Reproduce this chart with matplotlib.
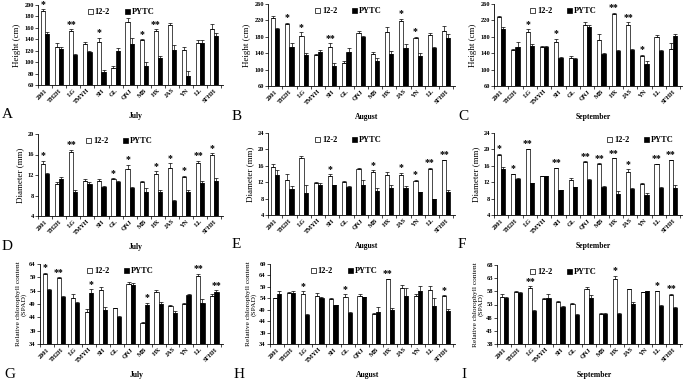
import matplotlib.pyplot as plt
import matplotlib
import numpy as np
from matplotlib.patches import Patch

matplotlib.rcParams.update({'font.family': 'Liberation Serif', 'font.weight': 'bold',
                            'font.size': 4.6, 'axes.linewidth': 0.6})

cats = ["2001", "TH2H", "LG", "TMYH", "SH", "GL", "QNJ", "MB", "HX", "JAS", "YN", "LL", "SFHH"]

# A - height, July
h_jul_a = [190, 126, 155, 131, 135, 90, 170, 138, 155, 165, 121, 133, 158]
h_jul_a_se = [3, 8, 3, 5, 8, 4, 8, 2, 3, 3, 6, 5, 8]
h_jul_b = [150, 123, 112, 118, 83, 119, 132, 94, 108, 122, 76, 133, 146]
h_jul_b_se = [3, 3, 3, 2, 3, 6, 11, 7, 3, 8, 8, 5, 5]
h_jul_sig = ["*", "", "**", "", "*", "", "", "*", "**", "", "", "", ""]
# B - height, August
h_aug_a = [225, 211, 183, 136, 155, 117, 190, 138, 192, 219, 177, 184, 193]
h_aug_a_se = [6, 3, 8, 3, 10, 4, 4, 4, 13, 5, 3, 6, 13]
h_aug_b = [198, 154, 136, 142, 108, 143, 180, 122, 139, 153, 132, 152, 176]
h_aug_b_se = [3, 12, 5, 6, 8, 9, 3, 6, 6, 10, 8, 3, 10]
h_aug_sig = ["", "*", "*", "", "**", "", "", "", "", "*", "*", "", ""]
# C - height, September
h_sep_a = [228, 147, 191, 154, 168, 128, 208, 171, 236, 208, 133, 180, 151]
h_sep_a_se = [3, 3, 7, 3, 7, 5, 7, 15, 3, 8, 3, 5, 14]
h_sep_b = [199, 155, 157, 155, 129, 126, 205, 139, 146, 147, 114, 145, 182]
h_sep_b_se = [5, 13, 5, 3, 2, 3, 3, 2, 3, 3, 7, 2, 5]
h_sep_sig = ["", "", "*", "", "*", "", "", "", "**", "**", "*", "", ""]
# D - diameter, July
d_jul_a = [14.2, 10.2, 16.4, 10.9, 10.8, 11.2, 13.2, 10.7, 12.2, 13.4, 11.7, 14.4, 16.0]
d_jul_a_se = [0.6, 0.4, 0.5, 0.3, 0.5, 0.2, 0.8, 0.2, 0.5, 0.9, 0.2, 0.4, 0.3]
d_jul_b = [12.1, 11.2, 8.6, 10.3, 9.7, 10.6, 9.5, 8.7, 8.6, 7.0, 8.6, 10.5, 10.9]
d_jul_b_se = [0.2, 0.5, 0.5, 0.4, 0.1, 0.2, 0.1, 0.8, 0.4, 0.1, 0.4, 0.4, 0.6]
d_jul_sig = ["*", "", "**", "", "", "*", "*", "", "*", "*", "*", "**", "*"]
# E - diameter, August
d_aug_a = [15.6, 12.5, 18.0, 11.9, 13.6, 12.1, 15.3, 14.5, 13.8, 13.8, 12.3, 15.3, 17.3]
d_aug_a_se = [0.9, 1.5, 0.5, 0.2, 0.4, 0.3, 0.1, 0.4, 0.6, 0.5, 0.3, 0.2, 0.2]
d_aug_b = [13.8, 10.4, 9.4, 11.4, 11.2, 10.9, 11.4, 9.8, 10.5, 10.6, 9.5, 7.9, 9.6]
d_aug_b_se = [1.2, 0.7, 1.8, 0.5, 0.2, 0.1, 1.2, 0.9, 0.7, 0.5, 0.2, 0.1, 0.5]
d_aug_sig = ["", "", "", "", "*", "", "", "*", "", "*", "*", "**", "**"]
# F - diameter, September
d_sep_a = [18.7, 13.9, 20.1, 13.4, 15.4, 12.5, 17.0, 16.4, 17.8, 14.6, 11.5, 16.4, 17.3]
d_sep_a_se = [0.3, 0.2, 0.1, 0.1, 0.1, 0.6, 0.1, 0.2, 0.1, 0.6, 0.3, 0.1, 0.2]
d_sep_b = [15.1, 12.8, 11.7, 13.4, 10.1, 10.8, 12.5, 10.9, 9.2, 10.4, 8.8, 10.6, 10.5]
d_sep_b_se = [0.5, 0.2, 0.1, 0.1, 0.1, 0.1, 0.3, 0.2, 0.6, 0.2, 0.5, 0.3, 0.7]
d_sep_sig = ["*", "*", "**", "", "**", "", "**", "**", "**", "*", "", "**", "**"]
# G - SPAD, July
s_jul_a = [60.4, 58.7, 51.3, 46.0, 54.3, 47.4, 56.5, 41.7, 53.5, 48.4, 48.9, 59.4, 52.1]
s_jul_a_se = [0.4, 0.4, 1.4, 1.2, 0.9, 0.2, 0.7, 0.6, 0.8, 0.3, 0.5, 1.0, 0.5]
s_jul_b = [54.2, 51.5, 49.4, 53.1, 46.6, 44.0, 56.3, 48.7, 48.9, 45.6, 52.5, 49.5, 53.6]
s_jul_b_se = [0.6, 0.4, 0.2, 1.4, 1.3, 0.6, 0.7, 0.8, 0.9, 0.6, 0.2, 1.2, 0.6]
s_jul_sig = ["*", "**", "", "*", "", "", "", "*", "", "", "", "**", "**"]
# H - SPAD, August
s_aug_a = [54.0, 56.4, 55.8, 54.8, 53.7, 54.5, 54.9, 47.0, 62.3, 58.5, 54.9, 57.7, 55.1]
s_aug_a_se = [0.3, 0.5, 1.2, 1.4, 0.4, 1.2, 0.8, 0.4, 0.3, 1.4, 0.8, 1.8, 0.2]
s_aug_b = [55.8, 56.1, 46.9, 54.2, 50.9, 47.7, 54.4, 48.1, 48.7, 55.2, 57.0, 50.7, 48.3]
s_aug_b_se = [1.3, 1.1, 0.4, 0.4, 0.2, 0.2, 0.3, 2.3, 0.9, 3.1, 2.3, 3.3, 1.2]
s_aug_sig = ["", "", "*", "", "", "*", "", "", "**", "", "", "", "*"]
# I - SPAD, September
s_sep_a = [56.0, 57.8, 59.1, 55.0, 53.8, 53.2, 59.0, 49.4, 62.7, 58.7, 57.6, 58.0, 56.7]
s_sep_a_se = [0.8, 0.4, 0.8, 0.5, 0.7, 0.4, 0.6, 0.3, 1.2, 0.3, 0.2, 0.3, 0.4]
s_sep_b = [55.4, 57.3, 50.5, 55.3, 51.9, 49.2, 55.3, 49.3, 49.5, 53.2, 58.0, 52.5, 51.7]
s_sep_b_se = [0.4, 0.6, 0.3, 1.5, 0.5, 0.3, 1.2, 0.4, 0.3, 0.7, 0.2, 0.4, 0.2]
s_sep_sig = ["", "", "**", "", "", "", "", "", "*", "", "", "*", "**"]

W, H = 685, 384
fig = plt.figure(figsize=(W / 100, H / 100), dpi=100)

spad = "Relative chlorophyll content\n(SPAD)"
# letter, month, ylabel, ylabel size, ylim, yticks, data, axes px box [l, t, r, b], legend x
panels = [
    ("A", "July", "Height (cm)", 6.5, (60, 200), np.arange(60, 201, 20),
     h_jul_a, h_jul_a_se, h_jul_b, h_jul_b_se, h_jul_sig, (38, 5, 223, 85), 0.45),
    ("B", "August", "Height (cm)", 6.5, (60, 260), np.arange(60, 261, 40),
     h_aug_a, h_aug_a_se, h_aug_b, h_aug_b_se, h_aug_sig, (268, 4, 455, 86), 0.43),
    ("C", "September", "Height (cm)", 6.5, (60, 260), np.arange(60, 261, 40),
     h_sep_a, h_sep_a_se, h_sep_b, h_sep_b_se, h_sep_sig, (494, 4, 682, 86), 0.37),
    ("D", "July", "Diameter (mm)", 6.5, (4, 20), np.arange(4, 21, 4),
     d_jul_a, d_jul_a_se, d_jul_b, d_jul_b_se, d_jul_sig, (38, 134, 223, 216), 0.44),
    ("E", "August", "Diameter (mm)", 6.5, (4, 24), np.arange(4, 25, 4),
     d_aug_a, d_aug_a_se, d_aug_b, d_aug_b_se, d_aug_sig, (268, 133, 455, 215), 0.43),
    ("F", "September", "Diameter (mm)", 6.5, (4, 24), np.arange(4, 25, 4),
     d_sep_a, d_sep_a_se, d_sep_b, d_sep_b_se, d_sep_sig, (494, 133, 682, 215), 0.78),
    ("G", "July", spad, 5.3, (34, 64), np.arange(34, 65, 5),
     s_jul_a, s_jul_a_se, s_jul_b, s_jul_b_se, s_jul_sig, (40, 264, 223, 344), 0.44),
    ("H", "August", spad, 5.3, (34, 69), np.arange(34, 70, 5),
     s_aug_a, s_aug_a_se, s_aug_b, s_aug_b_se, s_aug_sig, (270, 264, 455, 344), 0.40),
    ("I", "September", spad, 5.3, (38, 68), np.arange(38, 69, 5),
     s_sep_a, s_sep_a_se, s_sep_b, s_sep_b_se, s_sep_sig, (497, 265, 682, 344), 0.36),
]

x = np.arange(len(cats))
bw = 0.3
for (let, month, ylab, ylsize, ylim, yt, a, ase, b, bse, sig, box, lx) in panels:
    l, t, r, btm = box
    ax = fig.add_axes([l / W, 1 - btm / H, (r - l) / W, (btm - t) / H])
    ax.bar(x - bw / 2, a, bw, color='white', edgecolor='black', linewidth=0.5)
    ax.bar(x + bw / 2, b, bw, color='black', edgecolor='black', linewidth=0.5)
    ax.errorbar(x - bw / 2, a, yerr=[np.zeros(len(a)), ase], fmt='none', ecolor='black',
                elinewidth=0.5, capsize=1.3, capthick=0.5)
    ax.errorbar(x + bw / 2, b, yerr=[np.zeros(len(b)), bse], fmt='none', ecolor='black',
                elinewidth=0.5, capsize=1.3, capthick=0.5)
    span = ylim[1] - ylim[0]
    for i in range(len(cats)):
        if sig[i]:
            ta, tb = a[i] + ase[i], b[i] + bse[i]
            xs = x[i] - bw / 2 if ta >= tb else x[i] + bw / 2
            ax.text(xs, max(ta, tb) + span * 0.005, sig[i], ha='center', va='bottom',
                    fontsize=7, fontweight='bold')
    ax.set_ylim(*ylim)
    ax.set_yticks(yt)
    ax.set_xlim(-0.42, 12.62)
    ax.set_xticks(x)
    ax.set_xticklabels(cats, rotation=45, ha='right', rotation_mode='anchor')
    ax.set_xticks(np.arange(-0.5, 13, 1), minor=True)
    ax.tick_params(axis='x', which='major', length=0, pad=2)
    ax.tick_params(axis='x', which='minor', length=2, width=0.5, direction='out')
    ax.tick_params(axis='y', length=2, width=0.5, direction='out', pad=1)
    for s in ['top', 'right']:
        ax.spines[s].set_visible(False)
    ax.set_ylabel(ylab, fontsize=ylsize, labelpad=2, linespacing=1.0)
    handles = [Patch(facecolor='white', edgecolor='black', linewidth=0.5, label='12-2'),
               Patch(facecolor='black', edgecolor='black', linewidth=0.5, label='PYTC')]
    ax.legend(handles=handles, loc='upper center', bbox_to_anchor=(lx, 1.02), ncol=2,
              frameon=False, fontsize=6, handlelength=0.6, handleheight=0.6,
              handletextpad=0.2, columnspacing=1.8, borderpad=0.1)
    # month label and panel letter
    fig.text(((l + r) / 2 + 5) / W, 1 - (btm + 31) / H, month, ha='center', va='center',
             fontsize=5.5)
    fig.text((l - 36) / W, 1 - (btm + 30) / H, let, ha='left', va='center',
             fontsize=11, fontweight='normal')

fig.savefig("out.png", dpi=100)
